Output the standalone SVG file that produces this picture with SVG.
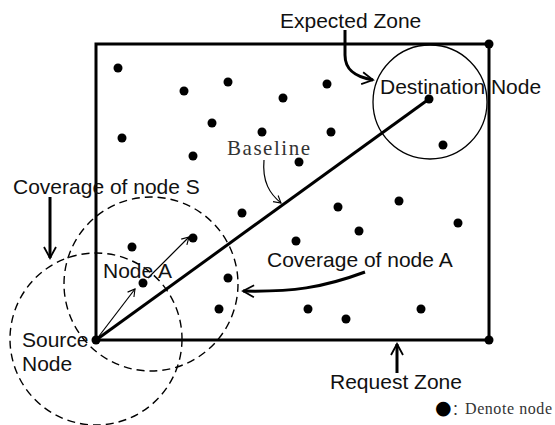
<svg xmlns="http://www.w3.org/2000/svg" width="555" height="425" viewBox="0 0 555 425">
  <defs>
    <style>
      .label { font-family: "Liberation Sans", Arial, sans-serif; font-size: 21px; fill: #111; }
      .serif { font-family: "Liberation Serif", "Noto Sans CJK SC", serif; fill: #333; }
      .dot { fill: #000; }
      .zone { fill: none; stroke: #000; stroke-width: 3; }
      .thick { fill: none; stroke: #000; stroke-width: 3; }
      .thin { fill: none; stroke: #000; stroke-width: 1.2; }
      .cover { fill: none; stroke: #000; stroke-width: 1.4; stroke-dasharray: 8 5; }
      .expect { fill: none; stroke: #000; stroke-width: 1.3; }
    </style>
    <marker id="headBig" markerUnits="userSpaceOnUse" markerWidth="16" markerHeight="16" refX="12" refY="7" orient="auto">
      <path d="M1,1 L12,7 L1,13" fill="none" stroke="#000" stroke-width="1.8"/>
    </marker>
    <marker id="headSmall" markerUnits="userSpaceOnUse" markerWidth="12" markerHeight="12" refX="8" refY="5" orient="auto">
      <path d="M1,1 L8,5 L1,9" fill="none" stroke="#000" stroke-width="1.1"/>
    </marker>
  </defs>

  <rect width="555" height="425" fill="#fff"/>

  <!-- request zone rectangle -->
  <g id="request-zone">
    <rect class="zone" x="96" y="44" width="393" height="296"/>
    <circle class="dot" cx="489" cy="44" r="4.5"/>
    <circle class="dot" cx="489" cy="340" r="4.5"/>
  </g>

  <!-- expected zone around the destination -->
  <g id="expected-zone">
    <circle class="expect" cx="430" cy="102" r="57"/>
  </g>

  <!-- coverage ranges -->
  <g id="coverage-s">
    <circle class="cover" cx="96" cy="339" r="86"/>
  </g>
  <g id="coverage-a">
    <circle class="cover" cx="151" cy="284" r="87"/>
  </g>

  <!-- connectors -->
  <g id="connectors">
    <line id="baseline" class="thick" x1="96" y1="340" x2="429" y2="99"/>
    <line class="thin" x1="96" y1="340" x2="135" y2="289" marker-end="url(#headSmall)"/>
    <line class="thin" x1="148" y1="278" x2="189" y2="237" marker-end="url(#headSmall)"/>
    <path class="thin" d="M264,160 C262,182 270,194 281,203" marker-end="url(#headSmall)"/>
    <path class="thick" d="M345,30 L345,55 C345,70 355,77 373,80" marker-end="url(#headBig)"/>
    <line class="thick" x1="50" y1="197" x2="50" y2="258" marker-end="url(#headBig)"/>
    <line class="thick" x1="397" y1="373" x2="397" y2="344" marker-end="url(#headBig)"/>
    <path class="thick" d="M365,272 C322,288 292,292 243,291" marker-end="url(#headBig)"/>
  </g>

  <!-- nodes -->
  <g id="source-node">
    <circle class="dot" cx="96" cy="340" r="4.5"/>
  </g>
  <g id="node-a">
    <circle class="dot" cx="143" cy="283" r="4.5"/>
  </g>
  <g id="destination-node">
    <circle class="dot" cx="429" cy="99" r="4.5"/>
  </g>
  <g id="other-nodes">
    <circle class="dot" cx="118" cy="68" r="4.5"/>
    <circle class="dot" cx="184" cy="91" r="4.5"/>
    <circle class="dot" cx="228" cy="82" r="4.5"/>
    <circle class="dot" cx="283" cy="98" r="4.5"/>
    <circle class="dot" cx="327" cy="84" r="4.5"/>
    <circle class="dot" cx="212" cy="123" r="4.5"/>
    <circle class="dot" cx="262" cy="132" r="4.5"/>
    <circle class="dot" cx="331" cy="132" r="4.5"/>
    <circle class="dot" cx="122" cy="138" r="4.5"/>
    <circle class="dot" cx="193" cy="156" r="4.5"/>
    <circle class="dot" cx="299" cy="162" r="4.5"/>
    <circle class="dot" cx="443" cy="145" r="4.5"/>
    <circle class="dot" cx="242" cy="213" r="4.5"/>
    <circle class="dot" cx="338" cy="207" r="4.5"/>
    <circle class="dot" cx="399" cy="201" r="4.5"/>
    <circle class="dot" cx="458" cy="223" r="4.5"/>
    <circle class="dot" cx="359" cy="231" r="4.5"/>
    <circle class="dot" cx="296" cy="241" r="4.5"/>
    <circle class="dot" cx="193" cy="238" r="4.5"/>
    <circle class="dot" cx="132" cy="247" r="4.5"/>
    <circle class="dot" cx="228" cy="278" r="4.5"/>
    <circle class="dot" cx="219" cy="309" r="4.5"/>
    <circle class="dot" cx="308" cy="309" r="4.5"/>
    <circle class="dot" cx="346" cy="319" r="4.5"/>
    <circle class="dot" cx="421" cy="309" r="4.5"/>
  </g>

  <!-- labels -->
  <g id="labels">
    <text class="label" x="280" y="28">Expected Zone</text>
    <text class="label" x="380" y="94">Destination Node</text>
    <text class="label" x="13" y="194">Coverage of node S</text>
    <text class="label" x="267" y="267">Coverage of node A</text>
    <text class="label" x="103" y="278">Node A</text>
    <text class="label" x="22" y="347">Source</text>
    <text class="label" x="22" y="371">Node</text>
    <text class="label" x="330" y="389">Request Zone</text>
    <text class="serif" x="227" y="155" font-size="21" textLength="83" lengthAdjust="spacing">Baseline</text>
    <text class="serif" y="414" font-size="16"><tspan x="435" font-family="'DejaVu Sans', sans-serif" font-size="19" fill="#000">●</tspan><tspan x="452" font-family="'Noto Sans CJK SC', sans-serif" font-size="14">：</tspan><tspan x="465" textLength="87" lengthAdjust="spacing">Denote node</tspan></text>
  </g>
</svg>
